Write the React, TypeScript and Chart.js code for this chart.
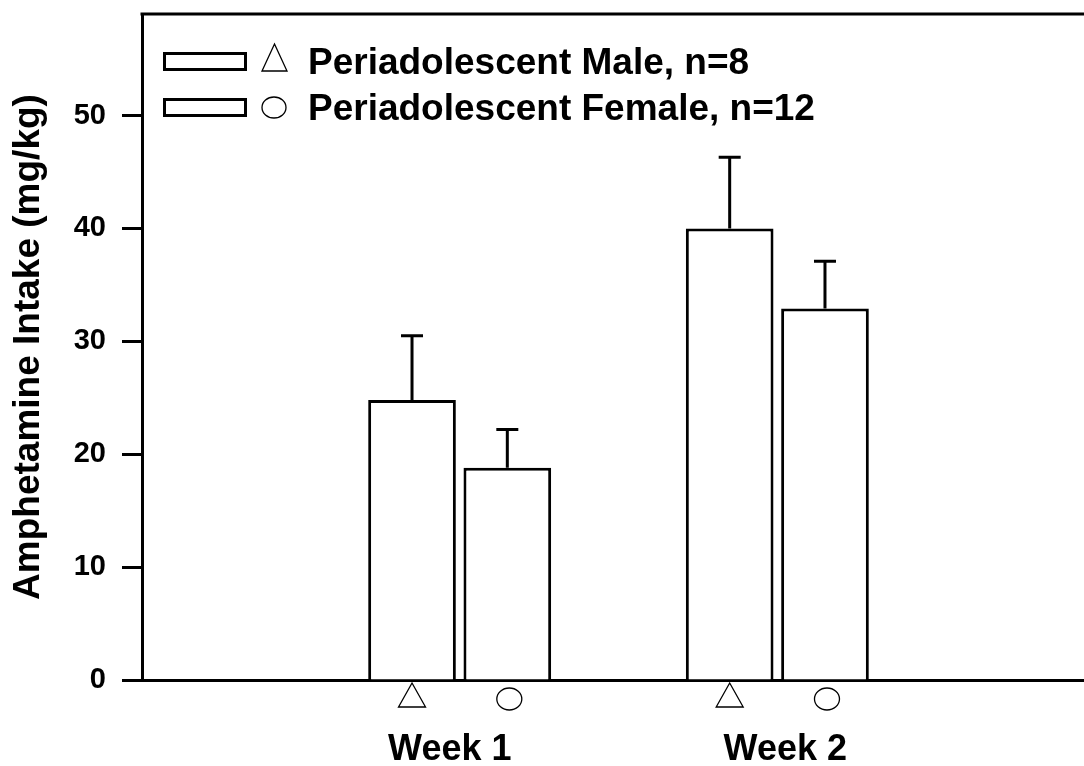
import { useEffect, useRef } from 'react';
import { Chart, registerables } from 'chart.js';

Chart.register(...registerables);

const categories = ['Week 1', 'Week 2'];
const categoryPositions = [1, 2];
const categoryLabelPositions = [0.969, 2.025];
const seriesLabels = ['Periadolescent Male, n=8', 'Periadolescent Female, n=12'];
const seriesMarkers = ['triangle', 'circle'];
const maleMean = [24.8, 40.0];
const maleSem = [5.7, 6.3];
const femaleMean = [18.8, 32.9];
const femaleSem = [3.4, 4.2];
const yTickStep = 10;
const yMin = 0;
const yMax = 59;
const xMin = 0;
const xMax = 3;
const yTitle = 'Amphetamine Intake (mg/kg)';

const FONT = '"Liberation Sans", Arial, Helvetica, sans-serif';

function drawTriangle(ctx: CanvasRenderingContext2D, cx: number, top: number, w: number, h: number) {
  ctx.beginPath();
  ctx.moveTo(cx, top);
  ctx.lineTo(cx + w / 2, top + h);
  ctx.lineTo(cx - w / 2, top + h);
  ctx.closePath();
  ctx.fillStyle = '#fff';
  ctx.fill();
  ctx.lineWidth = 1.3;
  ctx.strokeStyle = '#000';
  ctx.stroke();
}

function drawCircle(ctx: CanvasRenderingContext2D, cx: number, cy: number, rx: number, ry: number) {
  ctx.beginPath();
  ctx.ellipse(cx, cy, rx, ry, 0, 0, Math.PI * 2);
  ctx.fillStyle = '#fff';
  ctx.fill();
  ctx.lineWidth = 1.3;
  ctx.strokeStyle = '#000';
  ctx.stroke();
}

const errorBarPlugin = {
  id: 'errorBars',
  afterDatasetsDraw(chart: any) {
    const ctx = chart.ctx as CanvasRenderingContext2D;
    const yScale = chart.scales.y;
    ctx.save();
    ctx.strokeStyle = '#000';
    ctx.lineWidth = 3;
    chart.data.datasets.forEach((ds: any, i: number) => {
      const meta = chart.getDatasetMeta(i);
      meta.data.forEach((el: any, j: number) => {
        const mean = ds.data[j].y;
        const sem = ds.sem[j];
        const yTop = yScale.getPixelForValue(mean + sem);
        ctx.beginPath();
        ctx.moveTo(el.x, el.y);
        ctx.lineTo(el.x, yTop);
        ctx.moveTo(el.x - 11, yTop);
        ctx.lineTo(el.x + 11, yTop);
        ctx.stroke();
      });
    });
    ctx.restore();
  },
};

const decorPlugin = {
  id: 'decor',
  afterDraw(chart: any) {
    const ctx = chart.ctx as CanvasRenderingContext2D;
    const { left, right, top, bottom } = chart.chartArea;
    ctx.save();
    // top frame line
    ctx.strokeStyle = '#000';
    ctx.lineWidth = 3;
    ctx.beginPath();
    ctx.moveTo(left - 1.5, top);
    ctx.lineTo(right, top);
    ctx.stroke();

    // markers under bars
    chart.data.datasets.forEach((ds: any, i: number) => {
      const meta = chart.getDatasetMeta(i);
      meta.data.forEach((el: any) => {
        if (ds.marker === 'triangle') drawTriangle(ctx, el.x, bottom + 3, 27, 24);
        else drawCircle(ctx, el.x + 2, bottom + 19, 12.5, 11);
      });
    });

    // legend
    chart.data.datasets.forEach((ds: any, i: number) => {
      const cy = top + 47.5 + i * 46;
      ctx.strokeStyle = '#000';
      ctx.lineWidth = 3;
      ctx.strokeRect(left + 22.5, cy - 8, 81, 16);
      if (ds.marker === 'triangle') drawTriangle(ctx, left + 132.5, cy - 17.5, 25, 27);
      else drawCircle(ctx, left + 132, cy, 12, 10.5);
      ctx.fillStyle = '#000';
      ctx.font = `bold 37px ${FONT}`;
      ctx.textAlign = 'left';
      ctx.textBaseline = 'alphabetic';
      ctx.fillText(ds.label, left + 166, cy + 12.5);
    });
    ctx.restore();
  },
};

export default function App() {
  const canvasRef = useRef<HTMLCanvasElement | null>(null);

  useEffect(() => {
    const canvas = canvasRef.current;
    if (!canvas) return;
    const chart = new Chart(canvas, {
      type: 'bar',
      data: {
        datasets: [
          {
            label: seriesLabels[0],
            data: categoryPositions.map((x, i) => ({ x, y: maleMean[i] })),
            sem: maleSem,
            marker: seriesMarkers[0],
            backgroundColor: '#fff',
            borderColor: '#000',
            borderWidth: 3,
            categoryPercentage: 0.6,
            barPercentage: 0.92,
          } as any,
          {
            label: seriesLabels[1],
            data: categoryPositions.map((x, i) => ({ x, y: femaleMean[i] })),
            sem: femaleSem,
            marker: seriesMarkers[1],
            backgroundColor: '#fff',
            borderColor: '#000',
            borderWidth: 3,
            categoryPercentage: 0.6,
            barPercentage: 0.92,
          } as any,
        ],
      },
      options: {
        responsive: false,
        animation: false,
        devicePixelRatio: 1,
        layout: { padding: { top: 14, left: 0, right: 0, bottom: 0 } },
        plugins: {
          legend: { display: false },
          tooltip: { enabled: false },
        },
        scales: {
          x: {
            type: 'linear',
            min: xMin,
            max: xMax,
            offset: false,
            grid: { display: true, drawOnChartArea: false, drawTicks: false },
            border: { display: true, color: '#000', width: 3 },
            afterBuildTicks: (s: any) => {
              s.ticks = categoryLabelPositions.map((value) => ({ value }));
            },
            ticks: {
              autoSkip: false,
              maxRotation: 0,
              padding: 48,
              color: '#000',
              font: { family: FONT, size: 36, weight: 'bold' },
              callback: (v: any) => {
                const idx = categoryLabelPositions.indexOf(Number(v));
                return idx >= 0 ? categories[idx] : '';
              },
            },
            afterFit: (s: any) => {
              s.height = 86;
              s.paddingLeft = 0;
              s.paddingRight = 0;
            },
          },
          y: {
            type: 'linear',
            min: yMin,
            max: yMax,
            grid: {
              display: true,
              drawOnChartArea: false,
              drawTicks: true,
              tickLength: 20,
              tickWidth: 3,
              tickColor: '#000',
            },
            border: { display: true, color: '#000', width: 3 },
            ticks: {
              stepSize: yTickStep,
              includeBounds: false,
              padding: 16,
              color: '#000',
              font: { family: FONT, size: 29, weight: 'bold' },
            },
            title: {
              display: true,
              text: yTitle,
              color: '#000',
              font: { family: FONT, size: 37, weight: 'bold' },
              padding: { top: 7, bottom: 0 },
            },
            afterFit: (s: any) => {
              s.width = 142;
              s.paddingTop = 0;
              s.paddingBottom = 0;
            },
          },
        },
      } as any,
      plugins: [errorBarPlugin, decorPlugin],
    });
    return () => chart.destroy();
  }, []);

  return (
    <div
      style={{
        position: 'fixed',
        left: 0,
        top: 0,
        width: 1084,
        height: 766,
        overflow: 'hidden',
        background: '#fff',
      }}
    >
      <canvas ref={canvasRef} width={1095} height={766} style={{ display: 'block' }} />
    </div>
  );
}
